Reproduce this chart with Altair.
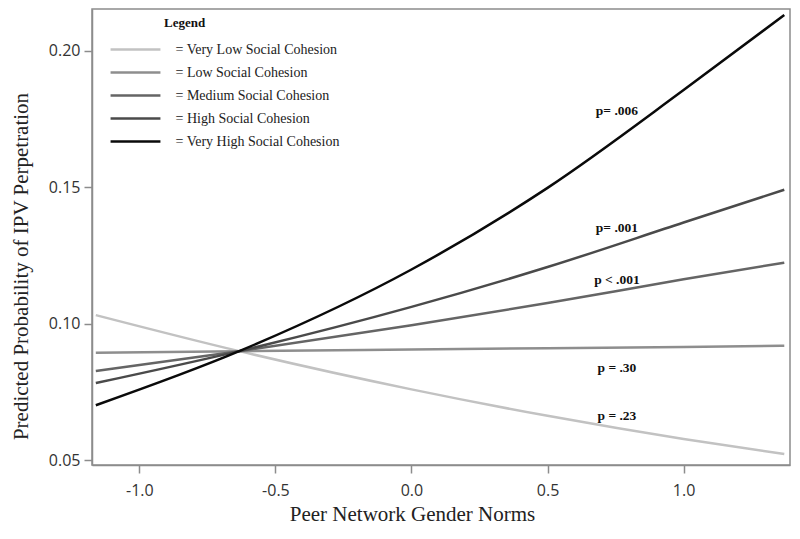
import altair as alt
import pandas as pd

# Peer network gender norms (x) at which the curves were read
x_vals = [-1.16, -0.633, 0.0, 0.5, 1.0, 1.37]

# Predicted probability of IPV perpetration
very_low = [0.1031, 0.0899, 0.0759, 0.0662, 0.0577, 0.0522]
low = [0.0893, 0.0899, 0.0905, 0.0910, 0.0914, 0.0919]
medium = [0.0826, 0.0899, 0.0994, 0.1075, 0.1162, 0.1223]
high = [0.0782, 0.0899, 0.1061, 0.1207, 0.1370, 0.1490]
very_high = [0.0701, 0.0899, 0.1198, 0.1497, 0.1855, 0.2130]

series_names = [
    "Very Low Social Cohesion",
    "Low Social Cohesion",
    "Medium Social Cohesion",
    "High Social Cohesion",
    "Very High Social Cohesion",
]
series_colors = ["#c2c2c2", "#8e8e8e", "#656565", "#4a4a4a", "#0a0a0a"]

# p-value annotations
ann_text = ["p= .006", "p= .001", "p < .001", "p = .30", "p = .23"]
ann_x = [0.755, 0.755, 0.755, 0.755, 0.755]
ann_y = [0.1779, 0.1349, 0.1161, 0.0836, 0.0663]

# legend heading
legend_heading = ["Legend"]
legend_heading_x = [-0.909]
legend_heading_y = [0.2101]

x_ticks = [-1.0, -0.5, 0.0, 0.5, 1.0]
y_ticks = [0.05, 0.10, 0.15, 0.20]

rows = []
for name, vals in zip(series_names, [very_low, low, medium, high, very_high]):
    for xv, yv in zip(x_vals, vals):
        rows.append({"norms": xv, "prob": yv, "cohesion": name})
df = pd.DataFrame(rows)
ann_df = pd.DataFrame({"norms": ann_x, "prob": ann_y, "label": ann_text})
head_df = pd.DataFrame({"norms": legend_heading_x, "prob": legend_heading_y, "label": legend_heading})

xscale = alt.Scale(domain=[-1.174, 1.391], nice=False, zero=False)
yscale = alt.Scale(domain=[0.0482, 0.2152], nice=False, zero=False)

x_axis = alt.Axis(
    title="Peer Network Gender Norms",
    values=x_ticks,
    labelExpr="datum.value < 0 ? '-' + format(abs(datum.value), '.1f') : format(datum.value, '.1f')",
    labelPadding=9,
    titleX=320,
    titleY=49,
    titleBaseline="middle",
    titleAlign="center",
)
y_axis = alt.Axis(
    title="Predicted Probability of IPV Perpetration",
    values=y_ticks,
    format=".2f",
    labelPadding=4,
    titleX=-71,
    titleY=257,
    titleAngle=270,
    titleBaseline="middle",
    titleAlign="center",
)

lines = alt.Chart(df).mark_line(strokeWidth=2.5, interpolate="monotone").encode(
    x=alt.X("norms:Q", scale=xscale, axis=x_axis),
    y=alt.Y("prob:Q", scale=yscale, axis=y_axis),
    color=alt.Color(
        "cohesion:N",
        scale=alt.Scale(domain=series_names, range=series_colors),
        sort=series_names,
        legend=alt.Legend(
            title=None,
            orient="none",
            legendX=3,
            legendY=25,
            padding=0,
            symbolType="M-1.75,0H1.75",
            symbolSize=812,
            symbolStrokeWidth=2.5,
            symbolOpacity=1,
            symbolOffset=25,
            labelExpr="'= ' + datum.label",
            labelFont="Liberation Serif",
            labelFontSize=14,
            labelColor="#222222",
            labelLimit=400,
            labelOffset=24.5,
            rowPadding=0,
        ),
    ),
)

ann = alt.Chart(ann_df).mark_text(
    font="Liberation Serif", fontSize=13.5, fontWeight="bold", color="#111111"
).encode(
    x=alt.X("norms:Q", scale=xscale),
    y=alt.Y("prob:Q", scale=yscale),
    text="label:N",
)

head = alt.Chart(head_df).mark_text(
    font="Liberation Serif", fontSize=13, fontWeight="bold", color="#111111",
    align="left", baseline="middle",
).encode(
    x=alt.X("norms:Q", scale=xscale),
    y=alt.Y("prob:Q", scale=yscale),
    text="label:N",
)

chart = (
    alt.layer(lines, ann, head)
    .properties(
        width=698,
        height=456,
        padding={"left": 84, "top": 1, "right": 2, "bottom": 70},
        autosize=alt.AutoSizeParams(type="none"),
        background="white",
    )
    .configure_view(stroke="#8c8c8c", strokeWidth=1.5)
    .configure_axis(
        grid=False,
        domainColor="#8c8c8c",
        domainWidth=1.5,
        tickColor="#8c8c8c",
        tickWidth=1.5,
        tickSize=8,
        labelFont="Open Sans",
        labelFontSize=16,
        labelColor="#333333",
        titleFont="Liberation Serif",
        titleFontSize=21,
        titleFontWeight="normal",
        titleColor="#222222",
    )
)

chart.save("out.html", embed_options={"renderer": "svg", "actions": False})
